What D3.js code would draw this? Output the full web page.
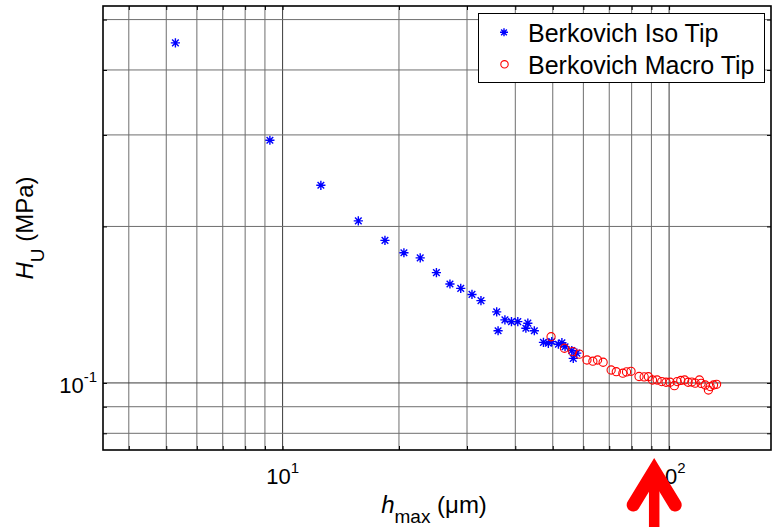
<!DOCTYPE html>
<html>
<head>
<meta charset="utf-8">
<script src="https://cdn.jsdelivr.net/npm/d3@7"></script>
<style>
  body{margin:0;background:#fff;}
  svg{display:block;font-family:"Liberation Sans",Arial,Helvetica,sans-serif;}
</style>
</head>
<body>
<div id="chart"></div>
<script>
// H_U vs h_max, log-log, two Berkovich tips
const seriesNames = ['Berkovich Iso Tip', 'Berkovich Macro Tip'];

const isoH  = [5.28, 9.27, 12.56, 15.7, 18.4, 20.6, 22.7, 25.0, 27.1, 28.9, 30.9, 32.6,
               35.8, 36.1, 37.6, 39.1, 40.6, 43.1, 42.6, 44.8, 47.3, 48.7, 49.7, 51.7,
               52.8, 53.8, 56.0, 56.5, 57.7];
const isoHU = [0.451, 0.293, 0.240, 0.205, 0.188, 0.178, 0.174, 0.163, 0.155, 0.152, 0.148, 0.144,
               0.137, 0.126, 0.1322, 0.1312, 0.1312, 0.1303, 0.1274, 0.126, 0.1197, 0.1192, 0.1201, 0.1187,
               0.1195, 0.1174, 0.1154, 0.1115, 0.1141];

const macroH  = [49.5, 53.6, 56.3, 58.6, 61.3, 63.5, 65.3, 67.5, 70.8, 73.0, 75.9, 77.6,
                 79.7, 83.6, 86.2, 88.4, 90.6, 93.1, 95.7, 98.2, 100.6, 103.2, 104.9, 107.2,
                 109.7, 112.0, 114.5, 116.8, 119.8, 121.0, 124.0, 126.4, 127.7, 130.3, 132.7];
const macroHU = [0.1227, 0.1166, 0.1149, 0.1136, 0.1107, 0.1101, 0.1107, 0.1096, 0.1059, 0.1051, 0.1044, 0.1050,
                 0.1053, 0.1029, 0.1027, 0.1028, 0.1013, 0.1013, 0.1006, 0.1003, 0.1003, 0.0988, 0.1006, 0.1011,
                 0.1013, 0.1003, 0.1004, 0.0999, 0.1013, 0.0998, 0.0991, 0.0969, 0.0984, 0.0991, 0.0994];

const xTicks = [4, 5, 6, 7, 8, 9, 10, 20, 30, 40, 50, 60, 70, 80, 90, 100];
const yTicks = [0.08, 0.09, 0.1, 0.2, 0.3, 0.4, 0.5];
const xMajor = [10, 100];          // labelled as 10^1, 10^2
const yMajor = [0.1];              // labelled as 10^-1
const arrowAt = 91.5;              // red arrow marking h_max ~ 90 um

const width = 779, height = 527;
const margin = {top: 6, right: 8, bottom: 77, left: 103};
const innerW = width - margin.left - margin.right;
const innerH = height - margin.top - margin.bottom;

const svg = d3.select('#chart').append('svg')
  .attr('width', width)
  .attr('height', height);

const x = d3.scaleLog().domain([3.43, 183.5]).range([0, innerW]);
const y = d3.scaleLog().domain([0.0743, 0.531]).range([innerH, 0]);

const g = svg.append('g').attr('transform', `translate(${margin.left},${margin.top})`);

// grid
g.append('g').selectAll('line').data(xTicks).enter().append('line')
  .attr('x1', d => x(d)).attr('x2', d => x(d))
  .attr('y1', 0).attr('y2', innerH)
  .attr('stroke', d => xMajor.includes(d) ? '#3a3a3a' : '#6e6e6e')
  .attr('stroke-width', 1);
g.append('g').selectAll('line').data(yTicks).enter().append('line')
  .attr('y1', d => y(d)).attr('y2', d => y(d))
  .attr('x1', 0).attr('x2', innerW)
  .attr('stroke', d => yMajor.includes(d) ? '#3a3a3a' : '#6e6e6e')
  .attr('stroke-width', 1);

// inward ticks on all four sides
const tl = 4;
g.append('g').call(d3.axisBottom(x).tickValues(xTicks).tickSize(-tl).tickFormat(''))
  .attr('transform', `translate(0,${innerH})`);
g.append('g').call(d3.axisTop(x).tickValues(xTicks).tickSize(-tl).tickFormat(''));
g.append('g').call(d3.axisLeft(y).tickValues(yTicks).tickSize(-tl).tickFormat(''));
g.append('g').call(d3.axisRight(y).tickValues(yTicks).tickSize(-tl).tickFormat(''))
  .attr('transform', `translate(${innerW},0)`);
g.selectAll('.domain').remove();
g.selectAll('.tick line').attr('stroke', '#000');

// box
g.append('rect')
  .attr('width', innerW).attr('height', innerH)
  .attr('fill', 'none').attr('stroke', '#000').attr('stroke-width', 1.6);

// tick labels with exponents
const xl = g.append('g').selectAll('text').data(xMajor).enter().append('text')
  .attr('x', d => x(d)).attr('y', innerH + 34)
  .attr('text-anchor', 'middle').attr('font-size', 22).attr('fill', '#000');
xl.append('tspan').text('10');
xl.append('tspan').attr('dy', -11).attr('font-size', 15).text(d => Math.round(Math.log10(d)));

const yl = g.append('g').selectAll('text').data(yMajor).enter().append('text')
  .attr('x', -6).attr('y', d => y(d) + 10)
  .attr('text-anchor', 'end').attr('font-size', 22).attr('fill', '#000');
yl.append('tspan').text('10');
yl.append('tspan').attr('dy', -11).attr('font-size', 15).text(d => Math.round(Math.log10(d)));

// axis labels
const xLab = svg.append('text')
  .attr('x', margin.left + innerW / 2 - 3).attr('y', 513)
  .attr('text-anchor', 'middle').attr('font-size', 24).attr('fill', '#000');
xLab.append('tspan').attr('font-style', 'italic').text('h');
xLab.append('tspan').attr('dy', 10).attr('font-size', 19).text('max');
xLab.append('tspan').attr('dy', -10).text(' (\u03bcm)');

const yLab = svg.append('text')
  .attr('transform', `translate(33,${margin.top + innerH / 2}) rotate(-90)`)
  .attr('text-anchor', 'middle').attr('font-size', 24).attr('fill', '#000');
yLab.append('tspan').attr('font-style', 'italic').text('H');
yLab.append('tspan').attr('dy', 11).attr('font-size', 19).text('U');
yLab.append('tspan').attr('dy', -11).text(' (MPa)');

// markers
function star(r){
  const a = r * 0.72;
  return `M${-r},0L${r},0M0,${-r}L0,${r}M${-a},${-a}L${a},${a}M${-a},${a}L${a},${-a}`;
}
const iso = isoH.map((h, i) => ({h, hu: isoHU[i]}));
const macro = macroH.map((h, i) => ({h, hu: macroHU[i]}));

g.append('g').selectAll('path').data(iso).enter().append('path')
  .attr('transform', d => `translate(${x(d.h)},${y(d.hu)})`)
  .attr('d', star(4.6))
  .attr('stroke', '#0000ff').attr('stroke-width', 1.4).attr('fill', 'none');

g.append('g').selectAll('circle').data(macro).enter().append('circle')
  .attr('cx', d => x(d.h)).attr('cy', d => y(d.hu))
  .attr('r', 4.1)
  .attr('stroke', '#ff0000').attr('stroke-width', 1.1).attr('fill', 'none');

// legend
const legend = svg.append('g').attr('transform', 'translate(478.5,13.5)');
legend.append('rect')
  .attr('width', 286).attr('height', 69)
  .attr('fill', '#fff').attr('stroke', '#000').attr('stroke-width', 1);
seriesNames.forEach((name, i) => {
  const row = legend.append('g').attr('transform', `translate(0,${18.8 + i * 32})`);
  if (i === 0) {
    row.append('path').attr('transform', 'translate(25.5,0)').attr('d', star(4))
      .attr('stroke', '#0000ff').attr('stroke-width', 1.4).attr('fill', 'none');
  } else {
    row.append('circle').attr('cx', 26).attr('cy', 0).attr('r', 3.7)
      .attr('stroke', '#ff0000').attr('stroke-width', 1.1).attr('fill', 'none');
  }
  row.append('text').attr('x', 49.5).attr('y', 9.5)
    .attr('font-size', 25).attr('fill', '#000').text(name);
});

// red arrow annotation below the axis
const ax = margin.left + x(arrowAt);
const arrow = svg.append('g').attr('stroke', '#ff0000').attr('fill', 'none');
arrow.append('line')
  .attr('x1', ax).attr('x2', ax).attr('y1', 476).attr('y2', 540)
  .attr('stroke-width', 10.5);
arrow.append('path')
  .attr('d', `M${ax - 21},505L${ax},470.5L${ax + 21},505`)
  .attr('stroke-width', 13)
  .attr('stroke-linecap', 'round')
  .attr('stroke-linejoin', 'miter');
</script>
</body>
</html>
